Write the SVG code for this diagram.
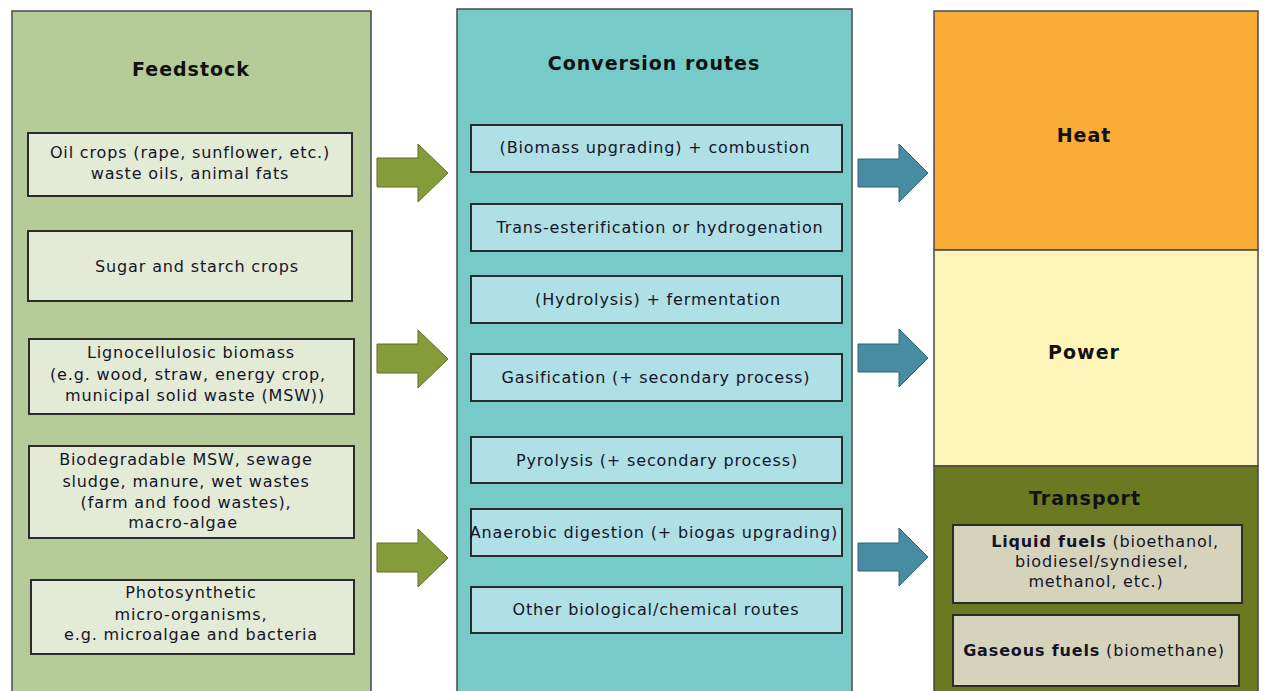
<svg xmlns="http://www.w3.org/2000/svg" width="1264" height="691" viewBox="0 0 1264 691">
<style>
text{font-family:"DejaVu Sans",Verdana,sans-serif;fill:#141428;text-anchor:middle}
.t{font-size:16px;letter-spacing:0.85px}
.h{font-size:19px;font-weight:bold;fill:#111;letter-spacing:1px}
.b{font-weight:bold}
.panel{stroke:#4a4a4a;stroke-width:1.5}
.box{stroke:#2b2b2b;stroke-width:2}
.fb{fill:#e3ebd6}
.cb{fill:#afe0e5}
.tb{fill:#d6d3bc}
.ga{fill:#869b3a;stroke:#5d6e22;stroke-width:1}
.ta{fill:#478ca1;stroke:#2f6677;stroke-width:1}
</style>
<rect width="1264" height="691" fill="#fff"/>
<g id="feedstock">
<rect class="panel" x="12" y="11" width="359" height="690" fill="#b5cc98"/>
<text class="h" x="191" y="76">Feedstock</text>
<g id="fs-oil"><rect class="box fb" x="28" y="133" width="324" height="63"/>
<text class="t"><tspan x="190" y="158">Oil crops (rape, sunflower, etc.)</tspan><tspan x="190" y="179">waste oils, animal fats</tspan></text></g>
<g id="fs-sugar"><rect class="box fb" x="28" y="231" width="324" height="70"/>
<text class="t" x="197" y="272">Sugar and starch crops</text></g>
<g id="fs-ligno"><rect class="box fb" x="29" y="339" width="325" height="75"/>
<text class="t"><tspan x="191" y="358">Lignocellulosic biomass</tspan><tspan x="188" y="380">(e.g. wood, straw, energy crop,</tspan><tspan x="195" y="401">municipal solid waste (MSW))</tspan></text></g>
<g id="fs-bio"><rect class="box fb" x="29" y="446" width="325" height="92"/>
<text class="t"><tspan x="186" y="465">Biodegradable MSW, sewage</tspan><tspan x="186" y="487">sludge, manure, wet wastes</tspan><tspan x="186" y="508">(farm and food wastes),</tspan><tspan x="183" y="528">macro-algae</tspan></text></g>
<g id="fs-photo"><rect class="box fb" x="31" y="580" width="323" height="74"/>
<text class="t"><tspan x="191" y="598">Photosynthetic</tspan><tspan x="191" y="620">micro-organisms,</tspan><tspan x="191" y="640">e.g. microalgae and bacteria</tspan></text></g>
</g>
<g id="conversion">
<rect class="panel" x="457" y="9" width="395" height="692" fill="#76cac7"/>
<text class="h" x="654" y="70">Conversion routes</text>
<g id="cv-comb"><rect class="box cb" x="471" y="125" width="371" height="47"/>
<text class="t" x="655" y="153">(Biomass upgrading) + combustion</text></g>
<g id="cv-trans"><rect class="box cb" x="471" y="204" width="371" height="47"/>
<text class="t" x="660" y="233">Trans-esterification or hydrogenation</text></g>
<g id="cv-ferm"><rect class="box cb" x="471" y="276" width="371" height="47"/>
<text class="t" x="658" y="305">(Hydrolysis) + fermentation</text></g>
<g id="cv-gas"><rect class="box cb" x="471" y="354" width="371" height="47"/>
<text class="t" x="656" y="383">Gasification (+ secondary process)</text></g>
<g id="cv-pyro"><rect class="box cb" x="471" y="437" width="371" height="46"/>
<text class="t" x="657" y="466">Pyrolysis (+ secondary process)</text></g>
<g id="cv-ad"><rect class="box cb" x="471" y="509" width="371" height="47"/>
<text class="t" x="654" y="538">Anaerobic digestion (+ biogas upgrading)</text></g>
<g id="cv-other"><rect class="box cb" x="471" y="587" width="371" height="46"/>
<text class="t" x="656" y="615">Other biological/chemical routes</text></g>
</g>
<g id="enduse">
<g id="heat"><rect class="panel" x="934" y="11" width="324" height="239" fill="#f9ad36"/>
<text class="h" x="1084" y="142">Heat</text></g>
<g id="power"><rect class="panel" x="934" y="250" width="324" height="216" fill="#fef6b9"/>
<text class="h" x="1084" y="359">Power</text></g>
<g id="transport"><rect class="panel" x="934" y="466" width="324" height="235" fill="#6b7a21"/>
<text class="h" x="1085" y="505">Transport</text>
<g id="tr-liquid"><rect class="box tb" x="953" y="525" width="289" height="78"/>
<text class="t"><tspan x="1105" y="547"><tspan class="b">Liquid fuels</tspan> (bioethanol,</tspan><tspan x="1102" y="567">biodiesel/syndiesel,</tspan><tspan x="1096" y="587">methanol, etc.)</tspan></text></g>
<g id="tr-gas"><rect class="box tb" x="953" y="615" width="286" height="71"/>
<text class="t" x="1094" y="656"><tspan class="b">Gaseous fuels</tspan> (biomethane)</text></g>
</g>
</g>
<g id="connectors">
<path class="ga" d="M377,158 H418 V144 L448,173 L418,202 V187 H377 Z"/>
<path class="ga" d="M377,344 H418 V330 L448,359 L418,388 V373 H377 Z"/>
<path class="ga" d="M377,543 H418 V529 L448,558 L418,587 V572 H377 Z"/>
<path class="ta" d="M858,159 H899 V144 L928,173 L899,202 V187 H858 Z"/>
<path class="ta" d="M858,344 H899 V329 L928,358 L899,387 V372 H858 Z"/>
<path class="ta" d="M858,543 H899 V528 L928,557 L899,586 V571 H858 Z"/>
</g>
</svg>
